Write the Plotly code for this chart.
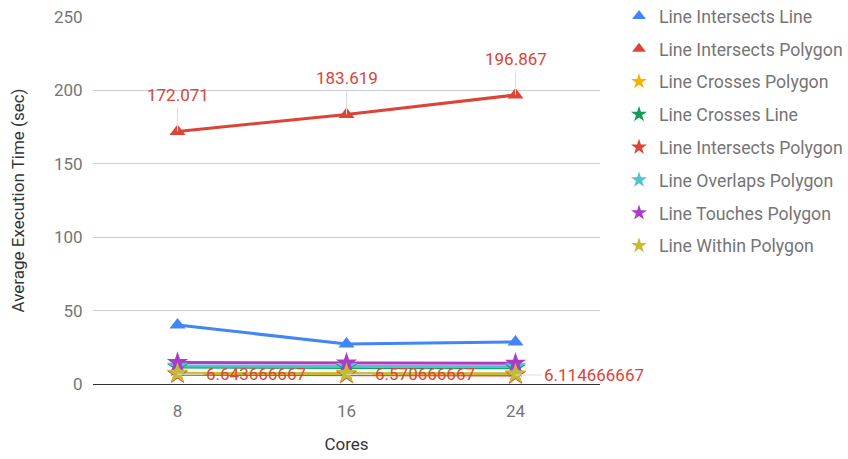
import plotly.graph_objects as go

# Benchmark: average execution time of spatial predicates by core count
cores = ["8", "16", "24"]

series_names = [
    "Line Intersects Line",
    "Line Intersects Polygon",
    "Line Crosses Polygon",
    "Line Crosses Line",
    "Line Intersects Polygon",
    "Line Overlaps Polygon",
    "Line Touches Polygon",
    "Line Within Polygon",
]

intersects_line = [40.2, 27.2, 28.6]
intersects_polygon = [172.071, 183.619, 196.867]
crosses_polygon = [7.0, 6.9, 6.6]
crosses_line = [11.5, 11.3, 11.0]
intersects_polygon_2 = [6.643666667, 6.570666667, 6.114666667]
overlaps_polygon = [12.2, 12.0, 11.8]
touches_polygon = [14.6, 14.4, 14.2]
within_polygon = [7.3, 7.2, 6.9]

series_values = [
    intersects_line,
    intersects_polygon,
    crosses_polygon,
    crosses_line,
    intersects_polygon_2,
    overlaps_polygon,
    touches_polygon,
    within_polygon,
]

colors = ["#4285F4", "#DB4437", "#F4B400", "#0F9D58",
          "#DB4437", "#4FC3CF", "#AB3CC6", "#C6BC34"]
symbols = ["triangle-up", "triangle-up", "star", "star",
           "star", "star", "star", "star"]
marker_sizes = [14, 14, 16, 16, 16, 16, 16, 16]

FONT = "Roboto, Arial, sans-serif"

fig = go.Figure()

# lines first, then markers on top
for i, (name, vals) in enumerate(zip(series_names, series_values)):
    fig.add_trace(go.Scatter(
        x=cores, y=vals, mode="lines", name=name,
        line=dict(color=colors[i], width=3),
        legendgroup=f"s{i}", showlegend=False, hoverinfo="skip",
    ))
for i, (name, vals) in enumerate(zip(series_names, series_values)):
    fig.add_trace(go.Scatter(
        x=cores, y=vals, mode="markers", name=name,
        marker=dict(color=colors[i], symbol=symbols[i], size=marker_sizes[i],
                    line=dict(width=0)),
        legendgroup=f"s{i}", showlegend=True,
    ))

annotations = []
# value labels above the upper polygon series (category axis: x by index)
for idx, v in enumerate(intersects_polygon):
    annotations.append(dict(
        x=idx, y=v, xref="x", yref="y", text=f"{v:g}",
        showarrow=True, arrowhead=0, arrowwidth=1, arrowcolor="#DDDDDD",
        ax=0, ay=-24, xanchor="center", yanchor="bottom",
        font=dict(family=FONT, size=17, color="#DB4437"),
    ))
# value labels to the right of the lower polygon series
for idx, v in enumerate(intersects_polygon_2):
    annotations.append(dict(
        x=idx, y=v, xref="x", yref="y", text=f"{v:.9f}",
        showarrow=True, arrowhead=0, arrowwidth=1, arrowcolor="#DDDDDD",
        ax=26, ay=0, xanchor="left", yanchor="middle",
        font=dict(family=FONT, size=17, color="#DB4437"),
    ))

fig.update_layout(
    width=848, height=459,
    margin=dict(l=93, r=248, t=17, b=75, autoexpand=False),
    paper_bgcolor="white", plot_bgcolor="white",
    font=dict(family=FONT, size=17, color="#757575"),
    annotations=annotations,
    legend=dict(
        x=1.0375, y=1.052, xanchor="left", yanchor="top",
        font=dict(family=FONT, size=17.7, color="#757575"),
        traceorder="grouped", tracegroupgap=6.8, maxheight=420,
        itemsizing="constant", bgcolor="rgba(0,0,0,0)",
    ),
    xaxis=dict(
        type="category", range=[-0.5, 2.5],
        showgrid=False, showline=False, zeroline=False,
        ticks="outside", ticklen=12, tickcolor="rgba(0,0,0,0)",
        tickfont=dict(size=17, color="#757575"),
        title=dict(text="Cores", standoff=17,
                   font=dict(size=17, color="#333333")),
    ),
    yaxis=dict(
        range=[0, 250], tickvals=[0, 50, 100, 150, 200, 250],
        showgrid=True, gridcolor="#CCCCCC", gridwidth=1,
        zeroline=True, zerolinecolor="#333333", zerolinewidth=1,
        showline=False,
        ticks="outside", ticklen=6, tickcolor="rgba(0,0,0,0)",
        tickfont=dict(size=17, color="#757575"),
        title=dict(text="Average Execution Time (sec)", standoff=24,
                   font=dict(size=17, color="#333333")),
    ),
)

fig.write_html("out.html")
